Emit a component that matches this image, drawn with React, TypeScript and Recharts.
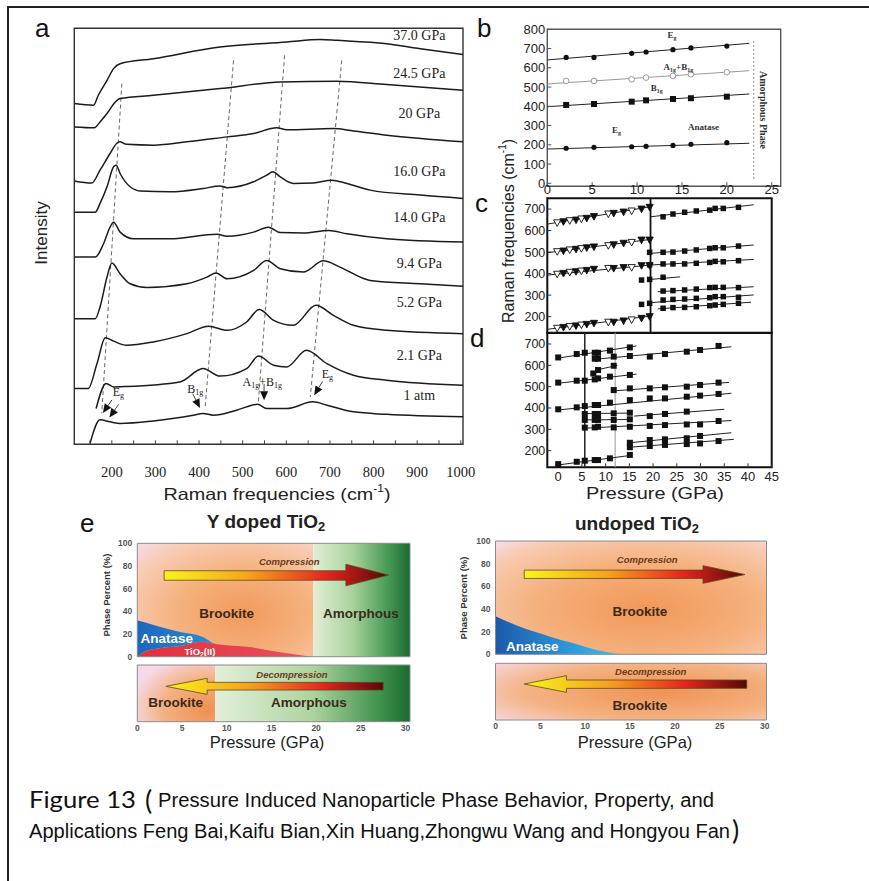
import React from "react";
import {
  ComposedChart,
  Line,
  Scatter,
  Area,
  XAxis,
  YAxis,
  ReferenceLine,
  ReferenceArea,
  ReferenceDot,
} from "recharts";

const SANS = "'Liberation Sans', Arial, sans-serif";
const SERIF = "'Liberation Serif', 'Times New Roman', serif";

// ---------- a: Raman spectra, [frequency cm-1, intensity a.u.] ----------
const spectrumLabels = ["37.0 GPa", "24.5 GPa", "20 GPa", "16.0 GPa", "14.0 GPa", "9.4 GPa", "5.2 GPa", "2.1 GPa", "1 atm"];
const spec370 = [[114, 81.9], [158, 81.5], [169, 83.9], [189, 87.5], [204, 90.3], [219, 91.5], [295, 92.7], [448, 95.5], [601, 96.7], [678, 97.3], [716, 97.1], [830, 96.3], [907, 95.1], [1005, 93.7]];
const spec245 = [[114, 76.3], [160, 76.1], [173, 77.5], [189, 79.5], [208, 82.3], [219, 83.1], [295, 83.9], [448, 85.5], [586, 87.1], [716, 87.3], [830, 86.5], [1005, 85.1]];
const spec200 = [[114, 63.3], [154, 62.8], [173, 65.9], [196, 69.9], [211, 72.3], [218, 72.7], [234, 72.1], [296, 71.9], [372, 72.7], [464, 73.9], [525, 74.7], [578, 76.1], [601, 75.6], [708, 75.9], [754, 75.3], [830, 74.3], [1005, 72.7]];
const spec160 = [[114, 55.8], [162, 55.8], [173, 57.9], [189, 61.9], [204, 66.7], [210, 67.1], [219, 65.1], [242, 61.9], [265, 60.9], [334, 60.7], [410, 61.5], [448, 62.1], [464, 61.7], [525, 63.1], [555, 64.7], [569, 65.5], [586, 64.3], [616, 62.7], [662, 62.8], [704, 63.5], [739, 62.7], [792, 61.1], [907, 59.9], [1005, 59.1]];
const spec140 = [[114, 45.0], [162, 45.0], [181, 48.2], [196, 52.2], [204, 53.4], [219, 51.0], [250, 49.4], [334, 49.4], [441, 50.5], [464, 50.0], [525, 51.0], [559, 52.2], [586, 50.9], [639, 50.8], [697, 51.4], [739, 50.6], [830, 49.4], [1005, 48.6]];
const spec94 = [[114, 30.2], [162, 30.2], [173, 33.0], [189, 40.2], [200, 43.6], [219, 41.0], [242, 38.6], [280, 37.7], [372, 38.6], [418, 40.2], [439, 41.2], [464, 39.8], [525, 41.8], [555, 44.2], [586, 42.2], [639, 41.4], [685, 44.1], [723, 42.6], [792, 39.4], [907, 38.6], [1005, 38.0]];
const spec52 = [[114, 13.4], [146, 13.4], [166, 19.4], [185, 25.6], [204, 24.8], [234, 23.8], [295, 24.6], [372, 26.6], [422, 28.4], [464, 27.4], [509, 29.4], [538, 32.4], [571, 29.8], [616, 28.6], [668, 33.4], [708, 31.0], [754, 28.6], [830, 27.4], [1005, 26.6]];
const spec21 = [[164, 8.6], [187, 14.6], [204, 13.8], [234, 13.9], [356, 15.0], [409, 18.2], [448, 16.4], [509, 18.2], [536, 21.2], [571, 19.0], [601, 18.6], [646, 22.6], [693, 19.4], [754, 16.6], [830, 15.4], [1005, 14.2]];
const spec1atm = [[150, 0.2], [173, 5.9], [196, 5.4], [219, 5.0], [295, 5.6], [387, 7.0], [409, 7.4], [433, 7.0], [486, 8.2], [534, 9.6], [555, 8.6], [601, 8.6], [661, 10.2], [693, 9.4], [754, 7.8], [830, 7.2], [1005, 6.6]];
const spectra = [spec370, spec245, spec200, spec160, spec140, spec94, spec52, spec21, spec1atm];

// dashed peak-tracking guides (top end, bottom end)
const guideEg1 = [[223, 86.7], [177, 7.4]];
const guideB1g = [[479, 92.3], [414, 9.0]];
const guideA1g = [[596, 93.5], [536, 10.2]];
const guideEg2 = [[727, 92.3], [655, 11.4]];

// ---------- b: anatase modes vs pressure ----------
const pressuresB = [2.1, 5.2, 9.4, 11, 14, 16, 20];
const bEgHigh = [654, 654, 675, 682, 694, 703, 713];
const bA1gB1g = [532, 532, 540, 549, 558, 566, 577];
const bB1g = [407, 412, 424, 431, 438, 442, 450];
const bEgLow = [182, 187, 190, 192, 197, 203, 211];
const bFitEgHigh = [[0, 641], [22.5, 727]];
const bFitA1gB1g = [[0, 516], [22.5, 585]];
const bFitB1g = [[0, 398], [22.5, 464]];
const bFitEgLow = [[0, 178], [22.5, 208]];

// ---------- c ----------
const pressuresC = [1.1, 1.8, 2.5, 3.2, 3.8, 4.4, 5.2, 6.8, 7.4, 8.5, 9.4, 10.5, 11.4];
const openC = [1, 0, 1, 0, 1, 0, 0, 1, 0, 0, 1, 0, 0];
const cT1 = [636, 641, 646, 649, 654, 657, 665, 677, 680, 686, 691, 700, 708];
const cT2 = [502, 505, 510, 513, 516, 520, 524, 530, 534, 541, 545, 556, 556];
const cT3 = [397, 401, 406, 409, 412, 415, 420, 424, 424, 428, 428, 437, 437];
const cT4 = [146, 150, 154, 157, 161, 164, 169, 174, 174, 180, 185, 192, 200];
const pressuresCR = [12.9, 14.0, 15.3, 16.6, 18.1, 18.7, 19.6, 21.3];
const cS1 = [664, 677, 685, 691, 695, 703, 703, 708];
const cS2 = [499, 500, 505, 510, 517, 520, 520, 528];
const cS3 = [445, 445, 445, 448, 452, 457, 455, 460];
const cS5 = [319, 321, 324, 328, 335, 336, 336, 335];
const cS6 = [277, 280, 282, 285, 288, 293, 293, 290];
const cS7 = [239, 242, 243, 246, 251, 254, 257, 262];
const cTransition = [[10.5, 370], [11.4, 373], [12.9, 383], [10.5, 257], [11.4, 262], [11.4, 499], [11.4, 441]];
const cFits = [
  [[0, 630], [11.5, 711]], [[0, 497], [11.5, 559]], [[0, 393], [11.5, 440]], [[0, 141], [11.5, 203]],
  [[11.5, 664], [23, 720]], [[11.5, 494], [23, 533]], [[11.5, 440], [23, 466]], [[11.5, 373], [14.8, 385]],
  [[12.3, 316], [23, 339]], [[11.5, 265], [23, 301]], [[12.3, 236], [22.7, 267]],
];
const cTransitionP = 11.5;

// ---------- d ----------
const dBranches = [
  [[0, 637], [3.9, 653], [5.6, 659], [7.7, 659], [8.4, 659], [10.9, 669], [15.1, 684]],
  [[7.7, 631], [8.4, 631], [11.7, 641], [15.1, 644], [19.3, 641], [22.5, 653], [27.1, 664], [29.9, 672], [33.8, 691]],
  [[7.4, 562], [8.4, 578], [11.7, 598]],
  [[0, 519], [3.9, 528], [5.6, 528], [7.7, 534], [8.4, 539], [10.9, 547], [15.1, 555]],
  [[11.7, 484], [15.1, 492], [19.3, 492], [22.5, 497], [27.1, 500], [29.9, 508], [33.8, 519]],
  [[0, 394], [3.9, 403], [5.6, 409], [7.7, 414], [8.4, 414], [10.9, 425], [15.1, 437], [19.3, 445], [22.5, 445], [27.1, 453], [29.9, 458], [33.8, 466]],
  [[5.6, 372], [7.7, 372], [8.4, 372], [11.7, 375], [15.1, 378], [19.3, 362], [22.5, 372], [27.1, 383]],
  [[5.6, 344], [7.7, 344], [8.4, 344], [11.7, 344], [15.1, 347]],
  [[5.6, 308], [7.7, 309], [8.4, 312], [11.7, 309], [15.1, 312], [19.3, 316], [22.5, 320], [27.1, 323], [29.9, 323], [33.8, 339]],
  [[15.1, 237], [19.3, 250], [22.5, 253], [27.1, 258], [29.9, 269]],
  [[15.1, 216], [19.3, 222], [22.5, 227], [27.1, 231], [29.9, 234], [33.8, 245]],
  [[0, 137], [3.9, 148], [5.6, 153], [7.7, 156], [8.4, 156], [10.9, 164], [15.1, 180]],
];
const dFits = [
  [[0, 634], [16.5, 691]], [[7.5, 628], [36.5, 687]], [[8, 578], [12.5, 600]], [[0, 516], [16.5, 559]],
  [[11.5, 480], [36, 520]], [[0, 391], [36.5, 469]], [[5, 374], [15, 376]], [[16, 362], [35, 394]],
  [[5, 344], [15, 346]], [[5.5, 305], [36.5, 341]], [[15, 237], [36.5, 284]], [[15, 216], [37, 253]],
  [[0, 133], [15, 177]],
];
const dBoundaries = [5.6, 12.0];

// ---------- e: phase fractions (%) vs pressure (GPa) ----------
const dopedP = [0, 1, 2.5, 4.8, 7.2, 8.9, 10, 12.3, 15.6, 19.5];
const dopedTiO2II = [0, 5, 7.4, 9.4, 13.2, 10.9, 10.2, 8.8, 4.4, 0];
const dopedAnatase = [32, 25, 19, 12.3, 4.6, 0, 0, 0, 0, 0];
const undopedP = [0, 3.2, 6.1, 8.7, 11.3, 14.1];
const undopedAnatase = [33.5, 22.9, 15.6, 9.7, 3.8, 0];
const dopedAmorphousOnset = 19.7;
// decompression: which phase is recovered along the pressure path
const dopedDecompP = [0, 8.7, 30.5];
const dopedDecompBrookite = [100, 100, null];
const dopedDecompAmorphous = [null, 100, 100];
const undopedDecompP = [0, 30.2];
const undopedDecompBrookite = [100, 100];

const pts = (a: number[][]) => a.map(([x, y]) => ({ x, y }));
const zip = (xs: number[], ys: number[]) => xs.map((x, i) => ({ x, y: ys[i] }));
const dopedRows = dopedP.map((x, i) => ({ x, tio2: dopedTiO2II[i], anatase: dopedAnatase[i] }));
const undopedRows = undopedP.map((x, i) => ({ x, anatase: undopedAnatase[i] }));
const dopedDecompRows = dopedDecompP.map((x, i) => ({ x, brookite: dopedDecompBrookite[i], amorphous: dopedDecompAmorphous[i] }));
const undopedDecompRows = undopedDecompP.map((x, i) => ({ x, brookite: undopedDecompBrookite[i] }));

// box: [left, top, width, height], plot: [x0, x1, y0, y1] in page pixels
function margins(box: number[], plot: number[], yw: number, xh: number) {
  return {
    left: plot[0] - box[0] - yw,
    right: box[0] + box[2] - plot[1],
    top: plot[2] - box[1],
    bottom: box[1] + box[3] - plot[3] - xh,
  };
}

const txt = (content: any, style: any = {}) => (p: any) => (
  <text x={p.cx} y={p.cy} textAnchor="middle" dominantBaseline="central" {...style}>
    {content}
  </text>
);

const sub = (s: string, size = 6) => (
  <tspan dy={3} fontSize={size}>
    {s}
  </tspan>
);

const arrowHead = (dx: number, dy: number, double = false) => (p: any) => {
  const len = Math.hypot(dx, dy);
  const ux = dx / len, uy = dy / len;
  const px = -uy, py = ux;
  const one = (ox: number) => {
    const tx = p.cx + px * ox, ty = p.cy + py * ox;
    const bx = tx - ux * 9, by = ty - uy * 9;
    return (
      <g key={ox}>
        <line x1={tx - ux * 16} y1={ty - uy * 16} x2={bx} y2={by} stroke="#111" strokeWidth={0.8} />
        <polygon points={`${tx},${ty} ${bx + px * 4},${by + py * 4} ${bx - px * 4},${by - py * 4}`} fill="#111" />
      </g>
    );
  };
  return <g>{double ? [one(-4), one(4)] : one(0)}</g>;
};

const arrowShape = (dir: string, head: number, s0: number, s1: number) => (p: any) => {
  const { x, y, width: w, height: h } = p;
  const hl = w * head;
  const a = y + h * s0, b = y + h * s1;
  const q =
    dir === "right"
      ? [[x, a], [x + w - hl, a], [x + w - hl, y], [x + w, y + h / 2], [x + w - hl, y + h], [x + w - hl, b], [x, b]]
      : [[x + w, a], [x + hl, a], [x + hl, y], [x, y + h / 2], [x + hl, y + h], [x + hl, b], [x + w, b]];
  return <polygon points={q.map((v) => v.join(",")).join(" ")} fill="url(#gArrow)" stroke="#5a4a22" strokeWidth={0.8} />;
};

const dotFilled = (p: any) => <circle cx={p.cx} cy={p.cy} r={2.6} fill="#111" />;
const dotOpen = (p: any) => <circle cx={p.cx} cy={p.cy} r={2.8} fill="#fff" stroke="#999" strokeWidth={1} />;
const sq = (s: number) => (p: any) => <rect x={p.cx - s / 2} y={p.cy - s / 2} width={s} height={s} fill="#111" />;
const tri = (p: any) => {
  const open = p.payload && p.payload.open;
  return (
    <polygon
      points={`${p.cx - 3.6},${p.cy - 3} ${p.cx + 3.6},${p.cy - 3} ${p.cx},${p.cy + 3.6}`}
      fill={open ? "#fff" : "#111"}
      stroke="#111"
      strokeWidth={0.9}
    />
  );
};

const fitLine = (f: number[][], key: string, color = "#222", w = 1) => (
  <Line key={key} data={pts(f)} dataKey="y" type="linear" stroke={color} strokeWidth={w} dot={false} isAnimationActive={false} />
);

const abs = (left: number, top: number, children: any) => (
  <div style={{ position: "absolute", left, top }}>{children}</div>
);

const aTicksX = [150, 200, 250, 300, 350, 400, 450, 500, 550, 600, 650, 700, 750, 800, 850, 900, 950, 1000];
const aTicksY = Array.from({ length: 27 }, (_, i) => +(3.6 * (i + 1)).toFixed(1));

function PanelA() {
  const box = [0, 0, 480, 500];
  return abs(
    0,
    0,
    <ComposedChart width={480} height={500} margin={margins(box, [74.3, 463, 28.3, 444.3], 10, 40)}>
      <XAxis
        type="number"
        dataKey="x"
        domain={[114, 1005]}
        allowDataOverflow
        ticks={aTicksX}
        interval={0}
        tickFormatter={(v: number) => (v % 100 === 0 ? String(v) : "")}
        axisLine={false}
        tickSize={-4}
        tickMargin={26}
        height={40}
        tickLine={{ stroke: "#444" }}
        tick={{ fontFamily: SERIF, fontSize: 14.5, fill: "#222" }}
      />
      <YAxis type="number" domain={[0, 100]} allowDataOverflow ticks={aTicksY} interval={0} tick={false} width={10} axisLine={false} tickSize={-4} tickLine={{ stroke: "#555" }} />
      <ReferenceArea x1={114} x2={1005} y1={0} y2={100} fill="none" stroke="#333" strokeWidth={1.4} ifOverflow="visible" />
      {[guideEg1, guideB1g, guideA1g, guideEg2].map((g, i) => (
        <Line key={"g" + i} data={pts(g)} dataKey="y" type="linear" stroke="#555" strokeWidth={0.9} strokeDasharray="4 3" dot={false} isAnimationActive={false} />
      ))}
      {spectra.map((s, i) => (
        <Line key={"s" + i} data={pts(s)} dataKey="y" type="monotone" stroke="#1b1b1b" strokeWidth={1.5} dot={false} isAnimationActive={false} />
      ))}
      {spectrumLabels.map((l, i) => (
        <ReferenceDot key={"l" + i} x={905} y={[98.3, 89.2, 79.6, 65.6, 54.6, 43.5, 34.1, 21.4, 11.8][i]} r={0} shape={txt(l, { fontFamily: SERIF, fontSize: 14, fill: "#222" })} />
      ))}
      <ReferenceDot x={187} y={7.0} r={0} shape={arrowHead(-0.7, 1, true)} />
      <ReferenceDot x={402} y={8.7} r={0} shape={arrowHead(0.5, 1)} />
      <ReferenceDot x={549} y={10.6} r={0} shape={arrowHead(0, 1)} />
      <ReferenceDot x={664} y={11.8} r={0} shape={arrowHead(-0.6, 1)} />
      <ReferenceDot x={215} y={12.6} r={0} shape={txt(<>E{sub("g", 8)}</>, { fontFamily: SERIF, fontSize: 12, fill: "#222" })} />
      <ReferenceDot x={391} y={13.2} r={0} shape={txt(<>B{sub("1g", 8)}</>, { fontFamily: SERIF, fontSize: 12, fill: "#222" })} />
      <ReferenceDot x={545} y={14.9} r={0} shape={txt(<>A{sub("1g", 8)}<tspan dy={-3}>+B</tspan>{sub("1g", 8)}</>, { fontFamily: SERIF, fontSize: 12, fill: "#222" })} />
      <ReferenceDot x={694} y={16.8} r={0} shape={txt(<>E{sub("g", 8)}</>, { fontFamily: SERIF, fontSize: 12, fill: "#222" })} />
    </ComposedChart>
  );
}

const smallSerif = { fontFamily: SERIF, fontSize: 9, fontWeight: 700, fill: "#333" };

function PanelB() {
  const box = [470, 0, 330, 215];
  return abs(
    470,
    0,
    <ComposedChart width={330} height={215} margin={margins(box, [547.3, 780.7, 29.3, 186.2], 34, 20)}>
      <XAxis type="number" dataKey="x" domain={[0, 26]} ticks={[0, 5, 10, 15, 20, 25]} interval={0} axisLine={false} tickSize={-4} tickMargin={3} height={20} tickLine={{ stroke: "#555" }} tick={{ fontFamily: SANS, fontSize: 13, fill: "#222" }} />
      <YAxis type="number" domain={[-15, 800]} ticks={[0, 100, 200, 300, 400, 500, 600, 700, 800]} interval={0} width={34} axisLine={false} tickSize={-4} tickMargin={6} tickLine={{ stroke: "#555" }} tick={{ fontFamily: SANS, fontSize: 13, fill: "#222" }} />
      <ReferenceArea x1={0} x2={26} y1={-15} y2={800} fill="none" stroke="#555" strokeWidth={1.4} ifOverflow="visible" />
      <ReferenceLine segment={[{ x: 23, y: 740 }, { x: 23, y: 15 }]} stroke="#888" strokeDasharray="2 2" strokeWidth={1} />
      {fitLine(bFitEgHigh, "f1")}
      {fitLine(bFitA1gB1g, "f2", "#999")}
      {fitLine(bFitB1g, "f3")}
      {fitLine(bFitEgLow, "f4")}
      <Scatter data={zip(pressuresB, bEgHigh)} dataKey="y" shape={dotFilled} isAnimationActive={false} />
      <Scatter data={zip(pressuresB, bA1gB1g)} dataKey="y" shape={dotOpen} isAnimationActive={false} />
      <Scatter data={zip(pressuresB, bB1g)} dataKey="y" shape={sq(6)} isAnimationActive={false} />
      <Scatter data={zip(pressuresB, bEgLow)} dataKey="y" shape={dotFilled} isAnimationActive={false} />
      <ReferenceDot x={13.9} y={770} r={0} shape={txt(<>E{sub("g", 6)}</>, smallSerif)} />
      <ReferenceDot x={14.6} y={606} r={0} shape={txt(<>A{sub("1g", 6)}<tspan dy={-3}>+B</tspan>{sub("1g", 6)}</>, smallSerif)} />
      <ReferenceDot x={12.2} y={493} r={0} shape={txt(<>B{sub("1g", 6)}</>, smallSerif)} />
      <ReferenceDot x={7.7} y={277} r={0} shape={txt(<>E{sub("g", 6)}</>, smallSerif)} />
      <ReferenceDot x={17.4} y={294} r={0} shape={txt("Anatase", smallSerif)} />
      <ReferenceDot
        x={24.1}
        y={381}
        r={0}
        shape={(p: any) => (
          <text x={p.cx} y={p.cy} transform={`rotate(90 ${p.cx} ${p.cy})`} textAnchor="middle" dominantBaseline="central" style={{ fontFamily: SERIF, fontSize: 10, fontWeight: 700, fill: "#333" }}>
            Amorphous Phase
          </text>
        )}
      />
    </ComposedChart>
  );
}

function PanelC() {
  const box = [470, 190, 330, 150];
  const tris = (ys: number[]) => pressuresC.map((x, i) => ({ x, y: ys[i], open: openC[i] }));
  return abs(
    470,
    190,
    <ComposedChart width={330} height={150} margin={margins(box, [547.3, 771.7, 198.3, 333], 34, 0)}>
      <XAxis type="number" dataKey="x" domain={[0, 25]} hide />
      <YAxis type="number" domain={[124, 750]} ticks={[200, 300, 400, 500, 600, 700]} interval={0} width={34} axisLine={false} tickSize={-4} tickMargin={6} tickLine={{ stroke: "#333" }} tick={{ fontFamily: SANS, fontSize: 12.5, fill: "#222" }} />
      <ReferenceLine x={cTransitionP} stroke="#111" strokeWidth={1.8} />
      {cFits.map((f, i) => fitLine(f, "cf" + i))}
      {[cT1, cT2, cT3, cT4].map((ys, i) => (
        <Scatter key={"ct" + i} data={tris(ys)} dataKey="y" shape={tri} isAnimationActive={false} />
      ))}
      {[cS1, cS2, cS3, cS5, cS6, cS7].map((ys, i) => (
        <Scatter key={"cs" + i} data={zip(pressuresCR, ys)} dataKey="y" shape={sq(5.5)} isAnimationActive={false} />
      ))}
      <Scatter data={pts(cTransition)} dataKey="y" shape={sq(5.5)} isAnimationActive={false} />
      <ReferenceArea x1={0} x2={25} y1={124} y2={750} fill="none" stroke="#111" strokeWidth={2} ifOverflow="visible" />
    </ComposedChart>
  );
}

function PanelD() {
  const box = [470, 325, 330, 175];
  return abs(
    470,
    325,
    <ComposedChart width={330} height={175} margin={margins(box, [547.3, 771.7, 332.7, 467.3], 34, 20)}>
      <XAxis type="number" dataKey="x" domain={[-2.3, 45]} ticks={[0, 5, 10, 15, 20, 25, 30, 35, 40, 45]} interval={0} axisLine={false} tickSize={-4} tickMargin={8} height={20} tickLine={{ stroke: "#333" }} tick={{ fontFamily: SANS, fontSize: 13, fill: "#222" }} />
      <YAxis type="number" domain={[122, 753]} ticks={[200, 300, 400, 500, 600, 700]} interval={0} width={34} axisLine={false} tickSize={-4} tickMargin={6} tickLine={{ stroke: "#333" }} tick={{ fontFamily: SANS, fontSize: 12.5, fill: "#222" }} />
      <ReferenceLine x={dBoundaries[0]} stroke="#222" strokeWidth={1.5} />
      <ReferenceLine x={dBoundaries[1]} stroke="#999" strokeWidth={1} />
      {dFits.map((f, i) => fitLine(f, "df" + i))}
      {dBranches.map((b, i) => (
        <Scatter key={"db" + i} data={pts(b)} dataKey="y" shape={sq(6)} isAnimationActive={false} />
      ))}
      <ReferenceArea x1={-2.3} x2={45} y1={122} y2={753} fill="none" stroke="#111" strokeWidth={2} ifOverflow="visible" />
    </ComposedChart>
  );
}

const eTick = { fontFamily: SANS, fontSize: 8.5, fontWeight: 700, fill: "#555" };
const eBig = { fontFamily: SANS, fontSize: 13.5, fontWeight: 700, fill: "#3a2a1a" };
const eItal = { fontFamily: SANS, fontSize: 9.5, fontWeight: 700, fontStyle: "italic", fill: "#6a3a1a" };
const eWhite = { fontFamily: SANS, fontSize: 13.5, fontWeight: 700, fill: "#fff" };

function PanelEDoped() {
  const topBox = [90, 530, 340, 135];
  const lowBox = [90, 660, 340, 85];
  return (
    <>
      {abs(
        90,
        530,
        <ComposedChart width={340} height={135} data={dopedRows} margin={margins(topBox, [137.3, 410, 543.3, 656.7], 20, 0)}>
          <XAxis type="number" dataKey="x" domain={[0, 30.5]} hide />
          <YAxis type="number" domain={[0, 100]} ticks={[0, 20, 40, 60, 80, 100]} interval={0} width={20} axisLine={false} tickLine={false} tickSize={0} tickMargin={5} tick={eTick} />
          <ReferenceArea x1={0} x2={dopedAmorphousOnset} y1={0} y2={100} fill="url(#gBrook)" fillOpacity={1} stroke="none" zIndex={-50} />
          <ReferenceArea x1={dopedAmorphousOnset} x2={30.5} y1={0} y2={100} fill="url(#gAmorph)" fillOpacity={1} stroke="none" zIndex={-50} />
          <Area dataKey="tio2" stackId="p" type="monotone" fill="url(#gRed)" fillOpacity={1} stroke="none" isAnimationActive={false} />
          <Area dataKey="anatase" stackId="p" type="monotone" fill="url(#gAnatase)" fillOpacity={1} stroke="none" isAnimationActive={false} />
          <ReferenceArea x1={3.0} x2={28.1} y1={62.5} y2={81.5} shape={arrowShape("right", 0.19, 0.3, 0.74)} zIndex={900} />
          <ReferenceArea x1={0} x2={30.5} y1={0} y2={100} fill="none" stroke="#8a8a8a" strokeWidth={1} zIndex={1000} />
          <ReferenceDot x={17.0} y={83.8} r={0} shape={txt("Compression", eItal)} />
          <ReferenceDot x={10.0} y={38.2} r={0} shape={txt("Brookite", eBig)} />
          <ReferenceDot x={25.0} y={38.2} r={0} shape={txt("Amorphous", eBig)} />
          <ReferenceDot x={3.3} y={16.2} r={0} shape={txt("Anatase", eWhite)} />
          <ReferenceDot x={7.0} y={5.0} r={0} shape={txt(<>TiO{sub("2", 6.5)}<tspan dy={-3}>(II)</tspan></>, { ...eWhite, fontSize: 9.5 })} />
        </ComposedChart>
      )}
      {abs(
        90,
        660,
        <ComposedChart width={340} height={85} data={dopedDecompRows} margin={margins(lowBox, [137.3, 410, 665, 721.7], 0, 16)}>
          <XAxis type="number" dataKey="x" domain={[0, 30.5]} ticks={[0, 5, 10, 15, 20, 25, 30]} interval={0} axisLine={false} tickLine={false} tickSize={0} tickMargin={3} height={16} tick={eTick} />
          <YAxis type="number" domain={[0, 100]} width={0} tick={false} axisLine={false} tickLine={false} />
          <Area dataKey="brookite" type="linear" fill="url(#gBrookLow)" fillOpacity={1} stroke="none" isAnimationActive={false} />
          <Area dataKey="amorphous" type="linear" fill="url(#gAmorphLow)" fillOpacity={1} stroke="none" isAnimationActive={false} />
          <ReferenceArea x1={3.2} x2={27.5} y1={48.2} y2={76.5} shape={arrowShape("left", 0.19, 0.25, 0.73)} zIndex={900} />
          <ReferenceArea x1={0} x2={30.5} y1={0} y2={100} fill="none" stroke="#8a8a8a" strokeWidth={1} zIndex={1000} />
          <ReferenceDot x={17.3} y={84} r={0} shape={txt("Decompression", eItal)} />
          <ReferenceDot x={4.3} y={34} r={0} shape={txt("Brookite", eBig)} />
          <ReferenceDot x={19.2} y={34} r={0} shape={txt("Amorphous", eBig)} />
        </ComposedChart>
      )}
    </>
  );
}

function PanelEUndoped() {
  const topBox = [445, 530, 340, 135];
  const lowBox = [445, 655, 340, 90];
  return (
    <>
      {abs(
        445,
        530,
        <ComposedChart width={340} height={135} data={undopedRows} margin={margins(topBox, [495.5, 766.5, 541, 654.3], 20, 0)}>
          <XAxis type="number" dataKey="x" domain={[0, 30.2]} hide />
          <YAxis type="number" domain={[0, 100]} ticks={[0, 20, 40, 60, 80, 100]} interval={0} width={20} axisLine={false} tickLine={false} tickSize={0} tickMargin={5} tick={eTick} />
          <ReferenceArea x1={0} x2={30.2} y1={0} y2={100} fill="url(#gBrookU)" fillOpacity={1} stroke="none" zIndex={-50} />
          <Area dataKey="anatase" type="monotone" fill="url(#gAnataseU)" fillOpacity={1} stroke="none" isAnimationActive={false} />
          <ReferenceArea x1={3.2} x2={27.8} y1={62.6} y2={78.2} shape={arrowShape("right", 0.19, 0.25, 0.72)} zIndex={900} />
          <ReferenceArea x1={0} x2={30.2} y1={0} y2={100} fill="none" stroke="#8a8a8a" strokeWidth={1} zIndex={1000} />
          <ReferenceDot x={16.9} y={83.8} r={0} shape={txt("Compression", eItal)} />
          <ReferenceDot x={16.1} y={38.2} r={0} shape={txt("Brookite", eBig)} />
          <ReferenceDot x={4.1} y={6.8} r={0} shape={txt("Anatase", eWhite)} />
        </ComposedChart>
      )}
      {abs(
        445,
        655,
        <ComposedChart width={340} height={90} data={undopedDecompRows} margin={margins(lowBox, [495.5, 766.5, 663.3, 720], 0, 16)}>
          <XAxis type="number" dataKey="x" domain={[0, 30.2]} ticks={[0, 5, 10, 15, 20, 25, 30]} interval={0} axisLine={false} tickLine={false} tickSize={0} tickMargin={3} height={16} tick={eTick} />
          <YAxis type="number" domain={[0, 100]} width={0} tick={false} axisLine={false} tickLine={false} />
          <Area dataKey="brookite" type="linear" fill="url(#gBrookULow)" fillOpacity={1} stroke="none" isAnimationActive={false} />
          <ReferenceArea x1={3.2} x2={28} y1={48.8} y2={78.2} shape={arrowShape("left", 0.19, 0.26, 0.76)} zIndex={900} />
          <ReferenceArea x1={0} x2={30.2} y1={0} y2={100} fill="none" stroke="#8a8a8a" strokeWidth={1} zIndex={1000} />
          <ReferenceDot x={17.3} y={85.3} r={0} shape={txt("Decompression", eItal)} />
          <ReferenceDot x={16.1} y={25.3} r={0} shape={txt("Brookite", eBig)} />
        </ComposedChart>
      )}
    </>
  );
}

function Gradients() {
  return (
    <svg width={0} height={0} style={{ position: "absolute" }}>
      <defs>
        <radialGradient id="gBrook" cx="0.6" cy="0.62" r="0.85">
          <stop offset="0" stopColor="#f29a5c" />
          <stop offset="0.45" stopColor="#f5b27e" />
          <stop offset="0.8" stopColor="#f8ccb4" />
          <stop offset="1" stopColor="#f6dae8" />
        </radialGradient>
        <radialGradient id="gBrookLow" cx="0.9" cy="0.8" r="1">
          <stop offset="0" stopColor="#f09050" />
          <stop offset="0.55" stopColor="#f4b080" />
          <stop offset="1" stopColor="#f5d9e8" />
        </radialGradient>
        <radialGradient id="gBrookU" cx="0.55" cy="0.6" r="0.8">
          <stop offset="0" stopColor="#f29858" />
          <stop offset="0.5" stopColor="#f5b07c" />
          <stop offset="0.85" stopColor="#f8cbb2" />
          <stop offset="1" stopColor="#f7dce8" />
        </radialGradient>
        <radialGradient id="gBrookULow" cx="0.6" cy="0.5" r="0.8">
          <stop offset="0" stopColor="#f09252" />
          <stop offset="0.6" stopColor="#f4b282" />
          <stop offset="1" stopColor="#f6d8e2" />
        </radialGradient>
        <linearGradient id="gAmorph" x1="0" y1="0" x2="1" y2="0">
          <stop offset="0" stopColor="#e2eed6" />
          <stop offset="0.4" stopColor="#aad39d" />
          <stop offset="0.75" stopColor="#4d9d5a" />
          <stop offset="1" stopColor="#1a6a30" />
        </linearGradient>
        <linearGradient id="gAmorphLow" x1="0" y1="0" x2="1" y2="0">
          <stop offset="0" stopColor="#e4efda" />
          <stop offset="0.5" stopColor="#add49f" />
          <stop offset="0.85" stopColor="#3f904c" />
          <stop offset="1" stopColor="#1a6a2e" />
        </linearGradient>
        <linearGradient id="gAnatase" x1="0" y1="0" x2="1" y2="0">
          <stop offset="0" stopColor="#1d66bd" />
          <stop offset="1" stopColor="#45bbea" />
        </linearGradient>
        <linearGradient id="gAnataseU" x1="0" y1="0" x2="1" y2="0">
          <stop offset="0" stopColor="#1c5aa8" />
          <stop offset="0.5" stopColor="#2a8ed6" />
          <stop offset="1" stopColor="#3cc3ee" />
        </linearGradient>
        <linearGradient id="gRed" x1="0" y1="0" x2="1" y2="0">
          <stop offset="0" stopColor="#e0303c" />
          <stop offset="1" stopColor="#ea5060" />
        </linearGradient>
        <linearGradient id="gArrow" x1="0" y1="0" x2="1" y2="0">
          <stop offset="0" stopColor="#f8f41c" />
          <stop offset="0.38" stopColor="#f6a21e" />
          <stop offset="0.72" stopColor="#e4261e" />
          <stop offset="1" stopColor="#560808" />
        </linearGradient>
      </defs>
    </svg>
  );
}

function Titles() {
  const t = (x: number, y: number, s: any, style: any, rot = 0, len?: number) => (
    <text
      x={x}
      y={y}
      textAnchor="middle"
      dominantBaseline="central"
      transform={rot ? `rotate(${rot} ${x} ${y})` : undefined}
      textLength={len}
      lengthAdjust={len ? "spacingAndGlyphs" : undefined}
      style={style}
    >
      {s}
    </text>
  );
  const letter = { fontFamily: SANS, fontSize: 26, fill: "#111" };
  const axis = { fontFamily: SANS, fontSize: 16.5, fill: "#222" };
  const sup = <tspan dy={-6} fontSize={10}>-1</tspan>;
  const capFont = "Lato, 'Open Sans', sans-serif";
  return (
    <svg width={869} height={881} style={{ position: "absolute", left: 0, top: 0, pointerEvents: "none" }}>
      <text x={35} y={37} style={letter}>a</text>
      <text x={477} y={37} style={letter}>b</text>
      <text x={475} y={212} style={letter}>c</text>
      <text x={470} y={347} style={letter}>d</text>
      <text x={80} y={532} style={letter}>e</text>
      {t(41, 233, "Intensity", { ...axis, fontSize: 17 }, -90)}
      {t(277, 494, <>Raman frequencies (cm{sup}<tspan dy={6}>)</tspan></>, axis, 0, 227)}
      {t(508, 231, <>Raman frequencies (cm{sup}<tspan dy={6}>)</tspan></>, { ...axis, fontSize: 16 }, -90)}
      {t(655, 493, "Pressure (GPa)", axis, 0, 138)}
      {t(266, 521, <>Y doped TiO<tspan dy={5} fontSize={13}>2</tspan></>, { fontFamily: SANS, fontSize: 19, fontWeight: 700, fill: "#222" })}
      {t(637, 523, <>undoped TiO<tspan dy={5} fontSize={13}>2</tspan></>, { fontFamily: SANS, fontSize: 19, fontWeight: 700, fill: "#222" })}
      {t(106.7, 595, "Phase Percent (%)", { fontFamily: SANS, fontSize: 9.5, fontWeight: 700, fill: "#333" }, -90)}
      {t(463.3, 598, "Phase Percent (%)", { fontFamily: SANS, fontSize: 9.5, fontWeight: 700, fill: "#333" }, -90)}
      {t(267, 742, "Pressure (GPa)", axis)}
      {t(635, 742, "Pressure (GPa)", axis)}
      {/* caption */}
      <text x={29} y={808} textLength={107} lengthAdjust="spacingAndGlyphs" style={{ fontFamily: capFont, fontSize: 23, fill: "#111" }}>Figure 13</text>
      <text x={145} y={810} style={{ fontFamily: capFont, fontSize: 27, fill: "#111" }}>(</text>
      <text x={158} y={807} textLength={556} lengthAdjust="spacingAndGlyphs" style={{ fontFamily: SANS, fontSize: 20, fill: "#111" }}>
        Pressure Induced Nanoparticle Phase Behavior, Property, and
      </text>
      <text x={29} y={838} textLength={701} lengthAdjust="spacingAndGlyphs" style={{ fontFamily: SANS, fontSize: 20, fill: "#111" }}>
        Applications Feng Bai,Kaifu Bian,Xin Huang,Zhongwu Wang and Hongyou Fan
      </text>
      <text x={732} y={840} style={{ fontFamily: capFont, fontSize: 27, fill: "#111" }}>)</text>
    </svg>
  );
}

export default function App() {
  return (
    <div style={{ position: "absolute", left: 0, top: 0, width: 869, height: 881, background: "#fff", overflow: "hidden" }}>
      <div style={{ position: "absolute", left: 7, top: 6, width: 870, height: 880, borderTop: "2px solid #222", borderLeft: "2px solid #222" }} />
      <Gradients />
      <PanelA />
      <PanelB />
      <PanelC />
      <PanelD />
      <PanelEDoped />
      <PanelEUndoped />
      <Titles />
    </div>
  );
}
